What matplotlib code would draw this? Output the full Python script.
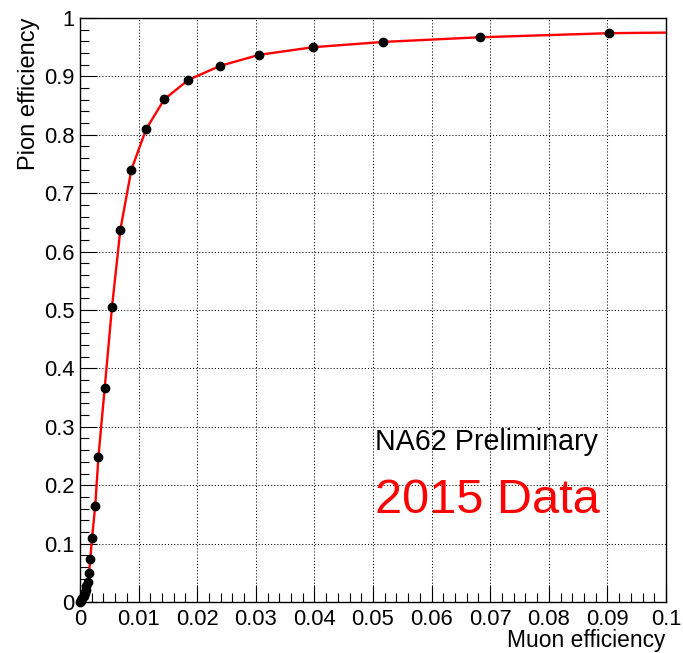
import matplotlib
matplotlib.use("Agg")
import matplotlib.pyplot as plt
from matplotlib.ticker import MultipleLocator, FixedLocator, FixedFormatter

plt.rcParams['font.family'] = ['Liberation Sans', 'DejaVu Sans']

# Pion efficiency vs. muon efficiency (measured working points)
muon_eff = [0.0, 0.0001, 0.0002, 0.0004, 0.0006, 0.0008, 0.00095, 0.0011, 0.0013,
            0.00154, 0.00175, 0.00205, 0.0026, 0.00315, 0.00421, 0.00546, 0.00688,
            0.00876, 0.0113, 0.0144, 0.0185, 0.0239, 0.0306, 0.0398, 0.0517,
            0.0682, 0.0903]
pion_eff = [0.0, 0.001, 0.003, 0.006, 0.010, 0.015, 0.020, 0.027, 0.035,
            0.049, 0.0736, 0.109, 0.165, 0.249, 0.366, 0.505, 0.637,
            0.740, 0.810, 0.861, 0.894, 0.918, 0.937, 0.950, 0.959,
            0.967, 0.974]

# Curve end at the right edge of the frame
curve_end_x = 0.1
curve_end_y = 0.975

x_ticks = [0, 0.01, 0.02, 0.03, 0.04, 0.05, 0.06, 0.07, 0.08, 0.09, 0.1]
x_tick_labels = ["0", "0.01", "0.02", "0.03", "0.04", "0.05", "0.06", "0.07",
                 "0.08", "0.09", "0.1"]
y_ticks = [0, 0.1, 0.2, 0.3, 0.4, 0.5, 0.6, 0.7, 0.8, 0.9, 1.0]
y_tick_labels = ["0", "0.1", "0.2", "0.3", "0.4", "0.5", "0.6", "0.7", "0.8",
                 "0.9", "1"]

W, H = 683, 653
fig = plt.figure(figsize=(W / 100, H / 100), dpi=100)
ax = fig.add_axes([80 / W, 51 / H, 586 / W, 584 / H])

ax.plot(muon_eff + [curve_end_x], pion_eff + [curve_end_y], color='red',
        lw=1.7, zorder=3)
ax.plot(muon_eff, pion_eff, 'o', color='black', ms=6.0, zorder=4,
        clip_on=False)

ax.set_xlim(0, 0.1)
ax.set_ylim(0, 1)

ax.xaxis.set_major_locator(FixedLocator(x_ticks))
ax.xaxis.set_major_formatter(FixedFormatter(x_tick_labels))
ax.yaxis.set_major_locator(FixedLocator(y_ticks))
ax.yaxis.set_major_formatter(FixedFormatter(y_tick_labels))
ax.xaxis.set_minor_locator(MultipleLocator(0.002))
ax.yaxis.set_minor_locator(MultipleLocator(0.02))

ax.tick_params(which='both', direction='in', top=False, right=False,
               width=0.8, color='black', labelsize=15.8)
ax.tick_params(which='major', length=12.2)
ax.tick_params(which='minor', length=6.8)
ax.tick_params(axis='x', which='major', pad=5)
ax.tick_params(axis='y', which='major', pad=4)

for s in ax.spines.values():
    s.set_linewidth(1.0)
    s.set_color('black')

ax.grid(True, which='major', color='black', lw=0.75, linestyle=(0, (1, 2.0)))
ax.set_axisbelow(True)

fig.text(29.5 / W, 1 - 18 / H, "Pion efficiency", rotation=90, ha='center',
         va='top', fontsize=17)
fig.text(665 / W, 1 - 647 / H, "Muon efficiency", ha='right',
         va='baseline', fontsize=16.4)

ax.text(0.0503, 0.260, "NA62 Preliminary", fontsize=20.6, color='black',
        ha='left', va='baseline')
ax.text(0.0503, 0.152, "2015 Data", fontsize=35, color='red',
        ha='left', va='baseline')

fig.savefig("out.png", dpi=100)
